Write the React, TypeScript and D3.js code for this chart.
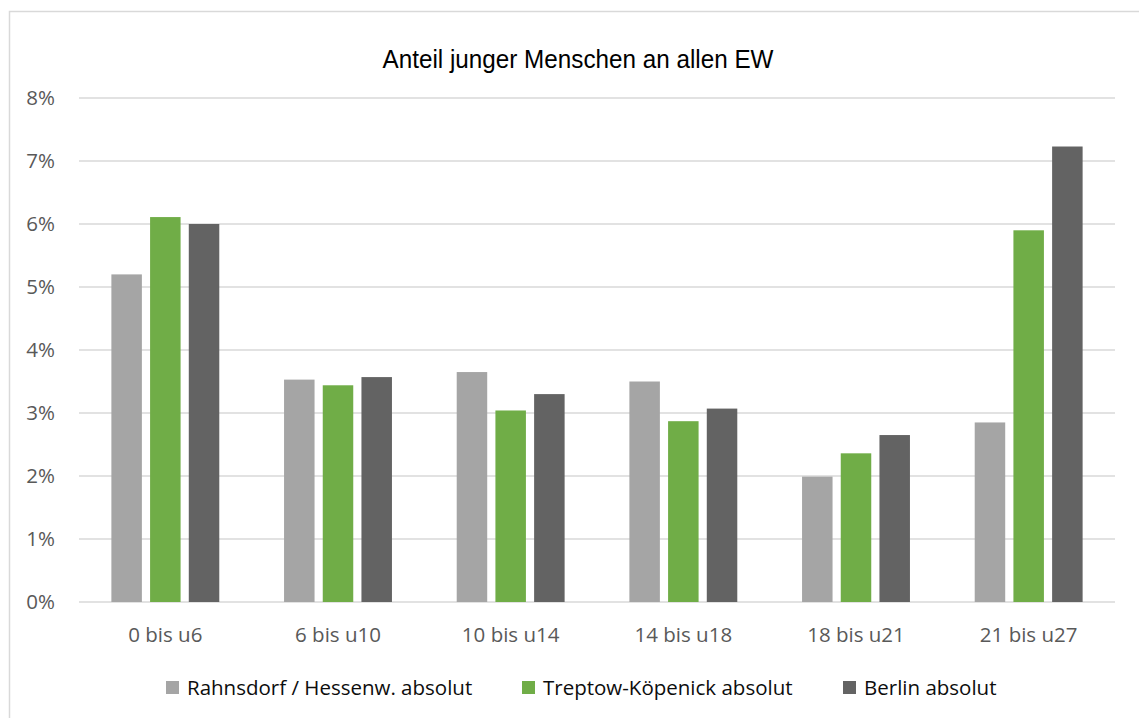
import React, { useRef, useEffect } from "react";
import * as d3 from "d3";

const categories = ["0 bis u6", "6 bis u10", "10 bis u14", "14 bis u18", "18 bis u21", "21 bis u27"];
const seriesNames = ["Rahnsdorf / Hessenw. absolut", "Treptow-Köpenick absolut", "Berlin absolut"];
const rahnsdorf = [5.2, 3.53, 3.65, 3.5, 1.99, 2.85];
const treptow = [6.11, 3.44, 3.04, 2.87, 2.36, 5.9];
const berlin = [6.0, 3.57, 3.3, 3.07, 2.65, 7.23];
const yTicks = [0, 1, 2, 3, 4, 5, 6, 7, 8];
const colors = ["#A5A5A5", "#70AD47", "#636363"];

const W = 1139;
const H = 718;

const App = () => {
  const svgRef = useRef<SVGSVGElement>(null);

  useEffect(() => {
    if (!svgRef.current) return;
    const svg = d3.select(svgRef.current);
    svg.selectAll("*").remove();

    const left = 79;
    const right = 1115;
    const top = 98;
    const bottom = 602;
    const font = "'Open Sans', 'Noto Sans', sans-serif";

    // chart border
    svg
      .append("rect")
      .attr("x", 9.5)
      .attr("y", 11.5)
      .attr("width", W + 20)
      .attr("height", H + 20)
      .attr("fill", "white")
      .attr("stroke", "#D9D9D9")
      .attr("stroke-width", 1.5);

    const x0 = d3.scaleBand().domain(categories).range([left, right]);
    const y = d3.scaleLinear().domain([0, 8]).range([bottom, top]);

    // gridlines
    svg
      .append("g")
      .selectAll("line")
      .data(yTicks)
      .enter()
      .append("line")
      .attr("x1", left)
      .attr("x2", right)
      .attr("y1", (d) => y(d))
      .attr("y2", (d) => y(d))
      .attr("stroke", "#D9D9D9")
      .attr("stroke-width", 1.5);

    // y labels
    svg
      .append("g")
      .selectAll("text")
      .data(yTicks)
      .enter()
      .append("text")
      .attr("x", 55)
      .attr("y", (d) => y(d))
      .attr("dy", "0.36em")
      .attr("text-anchor", "end")
      .attr("fill", "#595959")
      .style("font-family", font)
      .style("font-size", "20.5px")
      .text((d) => `${d}%`);

    // bars
    const series = [rahnsdorf, treptow, berlin];
    const bw = 30.5;
    const step = 38.7;
    series.forEach((vals, si) => {
      svg
        .append("g")
        .selectAll("rect")
        .data(vals)
        .enter()
        .append("rect")
        .attr("x", (d, i) => x0(categories[i])! + x0.bandwidth() / 2 + (si - 1) * step - bw / 2)
        .attr("y", (d) => y(d))
        .attr("width", bw)
        .attr("height", (d) => bottom - y(d))
        .attr("fill", colors[si]);
    });

    // x labels
    svg
      .append("g")
      .selectAll("text")
      .data(categories)
      .enter()
      .append("text")
      .attr("x", (d) => x0(d)! + x0.bandwidth() / 2)
      .attr("y", 642)
      .attr("text-anchor", "middle")
      .attr("fill", "#595959")
      .style("font-family", font)
      .style("font-size", "20.5px")
      .text((d) => d);

    // title
    svg
      .append("text")
      .attr("x", 578)
      .attr("y", 68)
      .attr("text-anchor", "middle")
      .attr("fill", "#000")
      .style("font-family", "'Liberation Sans', Arial, sans-serif")
      .style("font-size", "25px")
      .attr("textLength", 391)
      .attr("lengthAdjust", "spacingAndGlyphs")
      .text("Anteil junger Menschen an allen EW");

    // legend
    const legendX = [166, 522, 843];
    const lg = svg
      .append("g")
      .selectAll("g")
      .data(seriesNames)
      .enter()
      .append("g")
      .attr("transform", (d, i) => `translate(${legendX[i]},681)`);
    lg.append("rect")
      .attr("width", 13)
      .attr("height", 13)
      .attr("fill", (d, i) => colors[i]);
    lg.append("text")
      .attr("x", 21)
      .attr("y", 14)
      .attr("fill", "#0d0d0d")
      .style("font-family", font)
      .style("font-size", "20.5px")
      .text((d) => d);
  }, []);

  return (
    <div style={{ position: "absolute", left: 0, top: 0 }}>
      <svg ref={svgRef} width={W} height={H}></svg>
    </div>
  );
};

export default App;
